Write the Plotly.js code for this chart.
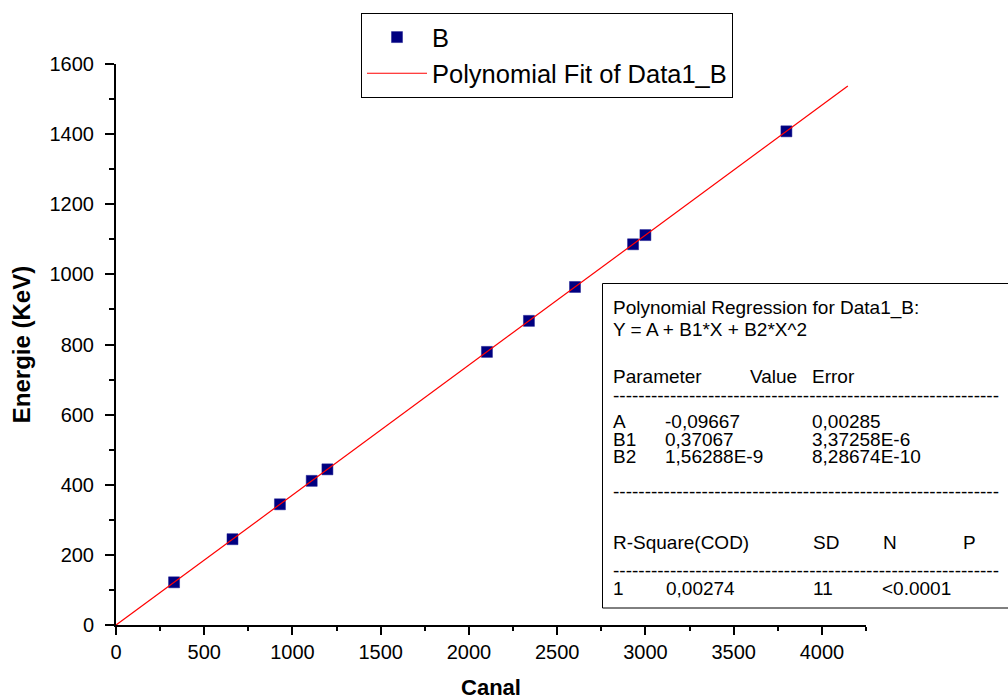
<!DOCTYPE html>
<html>
<head>
<meta charset="utf-8">
<script src="https://cdn.plot.ly/plotly-3.0.1.min.js"></script>
<style>html,body{margin:0;padding:0;background:#fff;}#chart{width:1008px;height:700px;}</style>
</head>
<body>
<div id="chart"></div>
<script>
// ---- data ----
const channel = [329, 660, 929, 1109, 1198, 2102, 2340, 2601, 2930, 3000, 3799];
const energy  = [121.78, 244.70, 344.28, 411.12, 443.96, 778.90, 867.38, 964.08, 1085.84, 1112.08, 1408.01];
const fitX = [0, 4147];
const fitY = [-0.10, 1537.1];
const xTickVals = [0, 500, 1000, 1500, 2000, 2500, 3000, 3500, 4000];
const yTickVals = [0, 200, 400, 600, 800, 1000, 1200, 1400, 1600];

const boxTitle = ["Polynomial Regression for Data1_B:", "Y = A + B1*X + B2*X^2"];
const paramHeader = ["Parameter", "Value", "Error"];
const paramNames = ["A", "B1", "B2"];
const paramValues = ["-0,09667", "0,37067", "1,56288E-9"];
const paramErrors = ["0,00285", "3,37258E-6", "8,28674E-10"];
const statHeader = ["R-Square(COD)", "SD", "N", "P"];
const statValues = ["1", "0,00274", "11", "<0.0001"];

// ---- geometry helpers (pixel -> paper) ----
const L = 116, T = 64, W = 750, H = 561;
const px = x => (x - L) / W;
const py = y => (T + H - y) / H;

const FONT = 'Arial, "Liberation Sans", sans-serif';
const boxFont = {family: FONT, size: 19, color: '#000'};

const annotations = [];
function txt(text, x, y) {
  annotations.push({text: text, xref: 'paper', yref: 'paper', x: px(x), y: py(y),
    xanchor: 'left', yanchor: 'middle', showarrow: false, font: boxFont, borderpad: 0});
}
txt(boxTitle[0], 612, 308);
txt(boxTitle[1], 612, 329);
txt(paramHeader[0], 612, 376);
txt(paramHeader[1], 749, 376);
txt(paramHeader[2], 811, 376);
const dashes = '-'.repeat(61);
txt(dashes, 612, 395);
const rowY = [421.7, 439, 456.7];
for (let i = 0; i < paramNames.length; i++) {
  txt(paramNames[i], 612, rowY[i]);
  txt(paramValues[i], 664, rowY[i]);
  txt(paramErrors[i], 811, rowY[i]);
}
txt(dashes, 612, 491);
txt(statHeader[0], 612, 542);
txt(statHeader[1], 812, 542);
txt(statHeader[2], 882, 542);
txt(statHeader[3], 962, 542);
txt(dashes, 612, 570);
txt(statValues[0], 612, 588);
txt(statValues[1], 665, 588);
txt(statValues[2], 812, 588);
txt(statValues[3], 881, 588);

const traces = [
  {x: channel, y: energy, mode: 'markers', type: 'scatter', name: 'B',
   marker: {symbol: 'square', size: 11, color: '#000080', line: {color: '#1a1a90', width: 0.5}},
   cliponaxis: false},
  {x: fitX, y: fitY, mode: 'lines', type: 'scatter', name: 'Polynomial Fit of Data1_B',
   line: {color: '#ff0000', width: 1.2}, cliponaxis: false}
];

const axisCommon = {
  showline: true, linecolor: '#000', linewidth: 2, mirror: false,
  showgrid: false, zeroline: false, ticks: 'outside', tickcolor: '#000', tickwidth: 2,
  tickfont: {family: FONT, size: 20, color: '#000'}, automargin: false, fixedrange: true
};

const layout = {
  width: 1008, height: 700,
  margin: {l: L, r: 1008 - L - W, t: T, b: 700 - T - H, pad: 0},
  paper_bgcolor: '#fff', plot_bgcolor: '#fff',
  showlegend: true,
  legend: {x: px(361), y: py(13), xanchor: 'left', yanchor: 'top',
    bordercolor: '#000', borderwidth: 1, bgcolor: '#fff',
    font: {family: FONT, size: 25.5, color: '#000'}, itemwidth: 60,
    tracegroupgap: 0},
  xaxis: Object.assign({}, axisCommon, {
    range: [0, 4250], tickmode: 'array', tickvals: xTickVals, ticklen: 8,
    ticklabelstandoff: 0,
    minor: {dtick: 250, tick0: 0, ticklen: 4, tickwidth: 2, tickcolor: '#000', ticks: 'outside', showgrid: false},
    title: {text: '<b>Canal</b>', font: {family: FONT, size: 22, color: '#000'}, standoff: 24}
  }),
  yaxis: Object.assign({}, axisCommon, {
    range: [0, 1600], tickmode: 'array', tickvals: yTickVals, ticklen: 9,
    ticklabelstandoff: 7,
    minor: {dtick: 100, tick0: 0, ticklen: 5, tickwidth: 2, tickcolor: '#000', ticks: 'outside', showgrid: false},
    title: {text: '<b>Energie (KeV)</b>', font: {family: FONT, size: 24, color: '#000'}, standoff: 12}
  }),
  shapes: [{type: 'rect', xref: 'paper', yref: 'paper', x0: px(602.5), x1: px(1015), y0: py(608), y1: py(283.5),
    line: {color: '#000', width: 1}, fillcolor: 'rgba(0,0,0,0)', layer: 'above'}],
  annotations: annotations
};

Plotly.newPlot('chart', traces, layout, {displayModeBar: false, staticPlot: true});
</script>
</body>
</html>
